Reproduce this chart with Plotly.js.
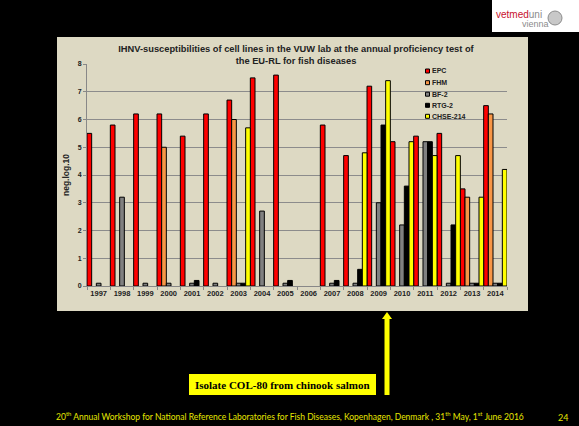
<!DOCTYPE html>
<html>
<head>
<meta charset="utf-8">
<script src="https://cdn.plot.ly/plotly-3.0.1.min.js"></script>
<style>html,body{margin:0;padding:0;background:#000;}#chart{width:579px;height:426px;}</style>
</head>
<body>
<div id="chart"></div>
<script>
// ---- data ----
const years = ['1997','1998','1999','2000','2001','2002','2003','2004','2005','2006','2007','2008','2009','2010','2011','2012','2013','2014'];
const seriesNames = ['EPC','FHM','BF-2','RTG-2','CHSE-214'];
const EPC  = [5.5,5.8,6.2,6.2,5.4,6.2,6.7,7.5,7.6,null,5.8,4.7,7.2,5.2,5.4,5.5,3.5,6.5];
const FHM  = [null,null,null,5.0,null,null,6.0,null,null,null,null,null,null,null,null,null,3.2,6.2];
const BF2  = [0.1,3.2,0.1,0.1,0.1,0.1,0.1,2.7,0.1,null,0.1,0.1,3.0,2.2,5.2,0.1,0.1,0.1];
const RTG2 = [null,null,null,null,0.2,null,0.1,null,0.2,null,0.2,0.6,5.8,3.6,5.2,2.2,0.1,0.1];
const CHSE = [null,null,null,null,null,null,5.7,null,null,null,null,4.8,7.4,5.2,4.7,4.7,3.2,4.2];
const yTicks = [0,1,2,3,4,5,6,7,8];
const titleText = 'IHNV-susceptibilities of cell lines in the VUW lab at the annual proficiency test of<br>the EU-RL for fish diseases';
const yTitle = 'neg.log.10';
const noteText = 'Isolate COL-80 from chinook salmon';
const footerText = '20<sup>th</sup> Annual Workshop for National Reference Laboratories for Fish Diseases, Kopenhagen, Denmark , 31<sup>th</sup> May, 1<sup>st</sup> June 2016';
const pageNo = '24';

// ---- styling ----
const W = 579, H = 426;
const px = x => x / W;
const py = y => 1 - y / H;
const colors = ['#FF0000','#F79646','#808080','#000000','#FFFF00'];
const allValues = [EPC, FHM, BF2, RTG2, CHSE];
const FONT = 'Arial, "Liberation Sans", sans-serif';

const traces = allValues.map((vals, i) => ({
  type: 'bar', name: seriesNames[i], x: years, y: vals,
  marker: {color: colors[i], line: {color: '#000', width: 1}},
  hoverinfo: 'x+y+name'
}));

const shapes = [
  {type:'rect', xref:'paper', yref:'paper', x0:px(57), x1:px(528), y0:py(311), y1:py(37),
   fillcolor:'#DDD9C3', line:{width:0}, layer:'below'},
  {type:'rect', xref:'paper', yref:'paper', x0:px(492), x1:px(579), y0:py(32), y1:py(0),
   fillcolor:'#FFFFFF', line:{width:0}, layer:'below'},
  {type:'circle', xref:'paper', yref:'paper', x0:px(548), x1:px(562), y0:py(25), y1:py(11),
   fillcolor:'#C8C8C8', line:{color:'#8c8c8c', width:1}},
  {type:'rect', xref:'paper', yref:'paper', x0:px(189), x1:px(376), y0:py(395), y1:py(374),
   fillcolor:'#FFFF00', line:{width:0}},
  {type:'rect', xref:'paper', yref:'paper', x0:px(384.5), x1:px(389.5), y0:py(395), y1:py(318),
   fillcolor:'#FFFF00', line:{width:0}},
  {type:'path', xref:'paper', yref:'paper',
   path:'M '+px(382)+' '+py(319)+' L '+px(392)+' '+py(319)+' L '+px(387)+' '+py(312)+' Z',
   fillcolor:'#FFFF00', line:{width:0}}
];

const annotations = [
  {xref:'paper', yref:'paper', x:px(282.5), y:py(384.5), text:'<b>'+noteText+'</b>', showarrow:false,
   xanchor:'center', yanchor:'middle', font:{family:'"Liberation Serif", "Times New Roman", serif', size:11, color:'#000'}},
  {xref:'paper', yref:'paper', x:px(54), y:py(416), text:footerText, showarrow:false,
   xanchor:'left', yanchor:'middle', font:{family:'Lato, "Open Sans", sans-serif', size:8.5, color:'#E6E600'}},
  {xref:'paper', yref:'paper', x:px(563), y:py(417), text:pageNo, showarrow:false,
   xanchor:'center', yanchor:'middle', font:{family:'Lato, "Open Sans", sans-serif', size:9, color:'#E6E600'}},
  {xref:'paper', yref:'paper', x:px(519), y:py(14), text:'<span style="color:#C8102E">vetmed</span><span style="color:#8c8c8c">uni</span>', showarrow:false,
   xanchor:'center', yanchor:'middle', font:{family:FONT, size:10, color:'#C8102E'}},
  {xref:'paper', yref:'paper', x:px(535), y:py(24), text:'vienna', showarrow:false,
   xanchor:'center', yanchor:'middle', font:{family:FONT, size:9, color:'#8c8c8c'}}
];

// compact legend
const legY = [71, 82.7, 94.2, 105.3, 116.3];
seriesNames.forEach((n, i) => {
  shapes.push({type:'rect', xref:'paper', yref:'paper', x0:px(425.5), x1:px(429.5),
    y0:py(legY[i]+2), y1:py(legY[i]-2), fillcolor:colors[i], line:{color:'#000', width:1}});
  annotations.push({xref:'paper', yref:'paper', x:px(430), y:py(legY[i]), text:'<b>'+n+'</b>', showarrow:false,
    xanchor:'left', yanchor:'middle', font:{family:FONT, size:7, color:'#222'}});
});

const layout = {
  width: W, height: H,
  margin: {l:0, r:0, t:0, b:0},
  paper_bgcolor: '#000000',
  plot_bgcolor: '#EEECE1',
  showlegend: false,
  barmode: 'group', bargap: 0, bargroupgap: 0,
  title: {text:'<b>'+titleText+'</b>', x:px(296), xanchor:'center', y:py(52), yanchor:'middle',
          font:{family:FONT, size:9.3, color:'#222'}},
  xaxis: {domain:[px(87), px(507)], type:'category', tickmode:'array', tickvals: years,
          ticktext: years.map(t => '<b>'+t+'</b>'), tickangle:0,
          showgrid:false, showline:true, linecolor:'#888', linewidth:1,
          ticks:'outside', tickson:'boundaries', ticklen:3, tickcolor:'#888',
          tickfont:{family:FONT, size:7.5, color:'#222'}, fixedrange:true},
  yaxis: {domain:[py(286), py(64)], range:[0,8], tickmode:'array', tickvals:yTicks,
          ticktext:yTicks.map(t => '<b>'+t+'</b>'),
          showgrid:true, gridcolor:'#8c8c8c', gridwidth:1, zeroline:false,
          showline:true, linecolor:'#888', linewidth:1, ticks:'outside', ticklen:3, tickcolor:'#888',
          tickfont:{family:FONT, size:7, color:'#222'},
          title:{text:'<b>'+yTitle+'</b>', font:{family:FONT, size:8.5, color:'#222'}, standoff:6},
          fixedrange:true},
  shapes: shapes,
  annotations: annotations
};

Plotly.newPlot('chart', traces, layout, {displayModeBar:false, staticPlot:true});
</script>
</body>
</html>
